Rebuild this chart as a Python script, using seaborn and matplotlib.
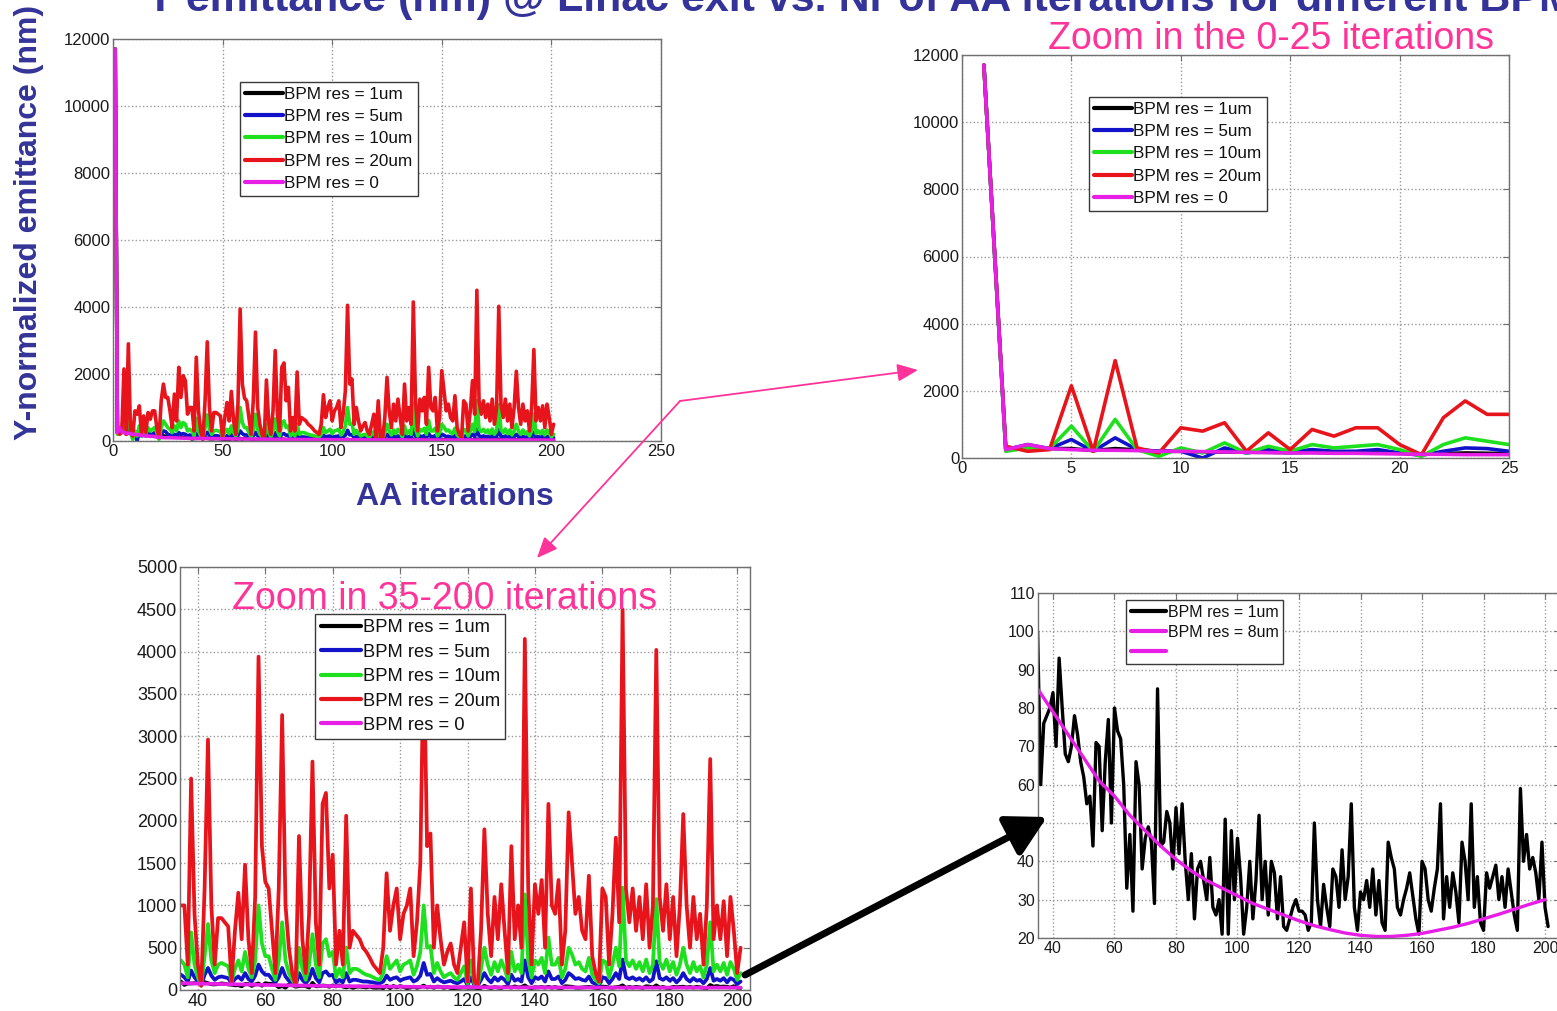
import matplotlib
matplotlib.use("Agg")
import matplotlib.pyplot as plt
import numpy as np
import pandas as pd
import seaborn as sns
from matplotlib.lines import Line2D
from matplotlib.patches import FancyArrowPatch

sns.set_theme(style="white")
plt.rcParams["font.family"] = ["Liberation Sans", "DejaVu Sans"]

W, H = 1557, 1011

# ---- data: Y-normalized emittance (nm) per AA iteration ----
iterations = list(range(1, 202))

emit_20um = [
    11700, 350, 200, 250, 2150, 200, 2900, 300, 150, 900,
    800, 1050, 200, 750, 250, 850, 650, 900, 900, 400,
    100, 1200, 1700, 1300, 1300, 900, 400, 1400, 600, 2200,
    1300, 1950, 1800, 800, 1000, 1000, 300, 2500, 900, 300,
    50, 1200, 2960, 1000, 300, 850, 850, 800, 750, 100,
    700, 1150, 600, 1480, 600, 200, 1100, 3940, 1700, 1280,
    1200, 700, 200, 1200, 3250, 1000, 500, 200, 50, 1820,
    600, 200, 900, 2700, 800, 300, 2200, 2330, 1200, 1600,
    300, 700, 300, 2060, 500, 700, 650, 600, 500, 450,
    380, 300, 250, 200, 500, 1380, 700, 1000, 1200, 600,
    900, 1000, 1200, 400, 800, 1500, 4050, 1700, 1850, 500,
    1000, 600, 300, 450, 550, 300, 200, 500, 800, 100,
    1200, 100, 50, 700, 1900, 900, 400, 1100, 600, 1250,
    700, 200, 1700, 600, 1000, 500, 4150, 1200, 300, 1250,
    900, 1300, 500, 2200, 1000, 900, 1300, 300, 700, 2100,
    1500, 900, 1100, 700, 600, 1350, 400, 200, 100, 1200,
    1100, 300, 900, 1800, 800, 4500, 1200, 800, 1200, 700,
    1100, 600, 1250, 500, 1000, 4020, 1100, 700, 1250, 600,
    1100, 400, 1000, 2080, 1000, 500, 1100, 600, 900, 300,
    1000, 2730, 600, 1000, 600, 1050, 400, 1100, 700, 200,
    500,
]

emit_10um = [
    11700, 200, 300, 280, 950, 200, 1150, 250, 50, 300,
    150, 450, 150, 350, 200, 400, 300, 350, 400, 250,
    50, 400, 600, 500, 400, 350, 250, 450, 300, 600,
    400, 550, 500, 300, 350, 300, 150, 680, 300, 150,
    50, 400, 780, 350, 200, 300, 320, 300, 280, 100,
    250, 350, 220, 450, 250, 150, 350, 1000, 550, 400,
    400, 250, 120, 350, 800, 350, 200, 120, 50, 500,
    250, 120, 300, 660, 300, 150, 550, 600, 400, 450,
    150, 250, 150, 500, 200, 250, 250, 230, 200, 180,
    170, 150, 130, 120, 200, 400, 250, 300, 350, 220,
    300, 320, 350, 180, 280, 450, 1000, 500, 520, 200,
    320, 220, 150, 180, 200, 150, 120, 200, 280, 80,
    350, 80, 50, 250, 500, 300, 180, 330, 220, 350,
    250, 120, 450, 220, 300, 200, 1130, 350, 150, 350,
    300, 380, 200, 620, 300, 300, 380, 150, 250, 500,
    420, 300, 330, 250, 220, 380, 180, 120, 80, 350,
    330, 150, 300, 500, 280, 1210, 350, 280, 350, 250,
    330, 220, 360, 200, 300, 1075, 330, 250, 360, 220,
    330, 180, 300, 500, 300, 200, 330, 220, 280, 150,
    300, 800, 220, 300, 220, 320, 180, 330, 250, 120,
    200,
]

emit_5um = [
    11700, 250, 400, 280, 550, 200, 600, 250, 200, 200,
    0, 300, 150, 250, 180, 250, 200, 200, 250, 150,
    80, 200, 300, 280, 200, 180, 150, 200, 160, 250,
    200, 220, 200, 150, 180, 150, 100, 230, 150, 100,
    60, 180, 260, 170, 120, 150, 160, 150, 140, 80,
    130, 160, 120, 200, 130, 100, 170, 300, 220, 180,
    180, 130, 90, 150, 260, 160, 110, 80, 50, 200,
    120, 80, 130, 250, 140, 90, 200, 220, 170, 180,
    90, 120, 90, 200, 100, 120, 120, 110, 100, 100,
    95, 90, 80, 80, 100, 170, 120, 140, 150, 110,
    130, 140, 150, 100, 120, 170, 320, 180, 190, 100,
    140, 110, 90, 100, 110, 90, 80, 100, 130, 60,
    150, 60, 50, 120, 200, 130, 90, 150, 110, 150,
    120, 70, 180, 110, 130, 100, 350, 150, 80, 150,
    130, 160, 100, 220, 130, 130, 160, 80, 120, 200,
    170, 130, 140, 120, 110, 160, 90, 70, 50, 150,
    140, 80, 130, 200, 130, 360, 150, 130, 150, 120,
    140, 110, 150, 100, 130, 340, 140, 120, 150, 110,
    140, 90, 130, 200, 130, 100, 140, 110, 120, 80,
    130, 260, 110, 130, 110, 140, 90, 140, 120, 70,
    100,
]

emit_1um = [
    11700, 250, 350, 280, 280, 220, 280, 240, 200, 200,
    180, 180, 170, 170, 160, 170, 160, 160, 150, 140,
    120, 130, 150, 140, 130, 130, 125, 120, 118, 115,
    112, 110, 108, 105, 100, 60, 76, 78, 80, 84,
    70, 93, 80, 68, 66, 70, 78, 73, 66, 62,
    55, 57, 44, 71, 70, 48, 66, 77, 50, 80,
    74, 72, 60, 33, 47, 27, 66, 60, 38, 46,
    49, 45, 29, 85, 44, 45, 53, 50, 38, 54,
    42, 55, 40, 30, 42, 25, 38, 40, 35, 30,
    41, 28, 26, 30, 21, 51, 21, 48, 30, 46,
    36, 21, 28, 40, 25, 35, 52, 30, 40, 26,
    40, 37, 25, 36, 23, 22, 25, 28, 30, 27,
    27, 26, 22, 24, 50, 30, 23, 34, 28, 23,
    38, 36, 28, 43, 30, 36, 55, 28, 22, 32,
    30, 35, 28, 38, 26, 35, 24, 22, 45, 41,
    38, 28, 26, 30, 33, 37, 31, 25, 21, 40,
    38, 30, 27, 33, 38, 55, 25, 36, 28, 37,
    32, 24, 45, 40, 30, 55, 28, 36, 24, 22,
    37, 33, 36, 39, 30, 36, 28, 38, 32, 26,
    22, 59, 40, 47, 38, 41, 37, 30, 45, 28,
    23,
]

emit_0_iter = list(range(1, 35)) + list(range(35, 201, 5)) + [201]
emit_0 = [
    11700, 250, 400, 280, 250, 230, 230, 220, 200, 200,
    190, 180, 170, 160, 150, 150, 140, 140, 130, 120,
    110, 110, 100, 100, 100, 98, 96, 94, 92, 90,
    88, 86, 84, 82,
    80, 76, 72, 68, 64, 60, 56, 53, 50, 47,
    45, 43, 41, 39, 37, 36, 35, 34, 33, 32,
    31, 31, 30, 30, 29, 29, 29, 28, 28, 28,
    28, 28, 28, 28,
    28,
]

fit_iter = list(range(35, 201, 5))
fit_8um = [
    85, 79, 73, 67, 61, 57, 52, 48, 44, 40.5,
    37.5, 35, 33, 31, 29, 27.5, 26, 24.5, 23.2, 22.2,
    21.3, 20.7, 20.4, 20.4, 20.7, 21.2, 22, 22.8, 23.8, 25,
    26.2, 27.5, 28.8, 30,
]

labels = ["BPM res = 1um", "BPM res = 5um", "BPM res = 10um", "BPM res = 20um", "BPM res = 0"]
colors = ["#000000", "#1212c8", "#1ee01e", "#e8141c", "#e61ee6"]

frames = []
for lab, vals in zip(labels[:4], [emit_1um, emit_5um, emit_10um, emit_20um]):
    frames.append(pd.DataFrame({"iteration": iterations, "emittance": vals, "series": lab}))
frames.append(pd.DataFrame({"iteration": emit_0_iter, "emittance": emit_0, "series": labels[4]}))
df = pd.concat(frames, ignore_index=True)

fit_df = pd.DataFrame({"iteration": fit_iter, "emittance": fit_8um})

TITLE_BLUE = "#333399"
PINK = "#ff3399"


def fig_pt(x, y):
    return (x / W, 1 - y / H)


def axes_rect(left, top, right, bottom):
    return [left / W, 1 - bottom / H, (right - left) / W, (bottom - top) / H]


def style_axes(ax, xlim, ylim, xticks, yticks, fs):
    ax.set_xlim(*xlim)
    ax.set_ylim(*ylim)
    ax.set_xticks(xticks)
    ax.set_yticks(yticks)
    ax.grid(True, linestyle=":", color="#9a9a9a", linewidth=1.0)
    for s in ax.spines.values():
        s.set_visible(True)
        s.set_color("#707070")
        s.set_linewidth(1.0)
    ax.tick_params(direction="in", length=4, width=0.8, top=True, right=True,
                   labelsize=fs, colors="#707070", labelcolor="#1a1a1a", pad=2)
    ax.set_xlabel("")
    ax.set_ylabel("")
    ax.set_facecolor("white")


def draw_series(ax, xmin=None, lw=2.4):
    handles = []
    for lab, col in zip(labels, colors):
        sub = df[df["series"] == lab]
        if xmin is not None:
            sub = sub[sub["iteration"] >= xmin]
        sns.lineplot(data=sub, x="iteration", y="emittance", color=col, lw=lw,
                     ax=ax, errorbar=None, legend=False)
        handles.append(Line2D([], [], color=col, lw=3))
    return handles


def add_legend(ax, handles, labs, left, top, fs, spacing=0.42):
    leg = ax.legend(handles, labs, loc="upper left",
                    bbox_to_anchor=fig_pt(left, top), bbox_transform=fig.transFigure,
                    fontsize=fs, frameon=True, fancybox=False, framealpha=1,
                    edgecolor="#3a3a3a", borderpad=0.3, labelspacing=spacing,
                    handlelength=2.2, handletextpad=0.1, borderaxespad=0)
    leg.get_frame().set_linewidth(1.0)
    for t in leg.get_texts():
        t.set_color("#111111")
    return leg


fig = plt.figure(figsize=(W / 100, H / 100), dpi=100)
fig.patch.set_facecolor("white")

# full run 0-250
ax1 = fig.add_axes(axes_rect(113, 39, 661, 441))
h = draw_series(ax1, lw=2.6)
style_axes(ax1, (0, 250), (0, 12000), range(0, 251, 50), range(0, 12001, 2000), 12)
add_legend(ax1, h, labels, 240, 82, 12.3)

# first 25 iterations
ax2 = fig.add_axes(axes_rect(962, 55, 1509, 458))
h = draw_series(ax2, lw=2.6)
style_axes(ax2, (0, 25), (0, 12000), range(0, 26, 5), range(0, 12001, 2000), 12)
add_legend(ax2, h, labels, 1089, 97, 12.3)

# iterations 35-200
ax3 = fig.add_axes(axes_rect(180, 567, 750, 990))
h = draw_series(ax3, xmin=35, lw=2.7)
style_axes(ax3, (34.7, 203.8), (0, 5000), range(40, 201, 20), range(0, 5001, 500), 13)
add_legend(ax3, h, labels, 315, 614, 13.2, spacing=0.40)

# 1um case with smooth trend
ax4 = fig.add_axes(axes_rect(1037.6, 593, 1560.4, 938))
one = df[(df["series"] == labels[0]) & (df["iteration"] >= 35)]
sns.lineplot(data=one, x="iteration", y="emittance", color="#000000", lw=2.4,
             ax=ax4, errorbar=None, legend=False)
sns.lineplot(data=fit_df, x="iteration", y="emittance", color="#e61ee6", lw=2.4,
             ax=ax4, errorbar=None, legend=False)
style_axes(ax4, (35, 205), (20, 110), range(40, 201, 20), range(20, 111, 10), 11.5)
hb = Line2D([], [], color="#000000", lw=3)
hm = Line2D([], [], color="#e61ee6", lw=3)
add_legend(ax4, [hb, hm, hm], ["BPM res = 1um", "BPM res = 8um", ""], 1126, 600, 11.5, spacing=0.3)

# headings and axis captions
fig.text(*fig_pt(146, 11), "Y emittance (nm) @ Linac exit vs. Nr of AA iterations for different BPM resolutions",
         fontsize=31, fontweight="bold", color=TITLE_BLUE, ha="left", va="baseline")
fig.text(*fig_pt(29, 222), "Y-normalized emittance (nm)", rotation=90, fontsize=23,
         fontweight="bold", color=TITLE_BLUE, ha="center", va="center")
fig.text(*fig_pt(455, 497), "AA iterations", fontsize=23, fontweight="bold",
         color=TITLE_BLUE, ha="center", va="center")
fig.text(*fig_pt(1271, 49), "Zoom in the 0-25 iterations", fontsize=27, color=PINK,
         ha="center", va="baseline")
fig.text(*fig_pt(445, 609), "Zoom in 35-200 iterations", fontsize=27, color=PINK,
         ha="center", va="baseline")

# connectors between panels
for a, b in [((680, 401), (918, 370)), ((680, 401), (537, 558))]:
    arr = FancyArrowPatch(fig_pt(*a), fig_pt(*b), transform=fig.transFigure,
                          arrowstyle="-|>,head_length=0.7,head_width=0.3", mutation_scale=18,
                          color=PINK, lw=1.3, shrinkA=0, shrinkB=0)
    fig.add_artist(arr)
arr = FancyArrowPatch(fig_pt(745, 975), fig_pt(1047, 817), transform=fig.transFigure,
                      arrowstyle="-|>,head_length=1.0,head_width=0.55", mutation_scale=24,
                      color="#000000", lw=5, shrinkA=0, shrinkB=0)
fig.add_artist(arr)

fig.savefig("out.png", dpi=100, facecolor="white")
